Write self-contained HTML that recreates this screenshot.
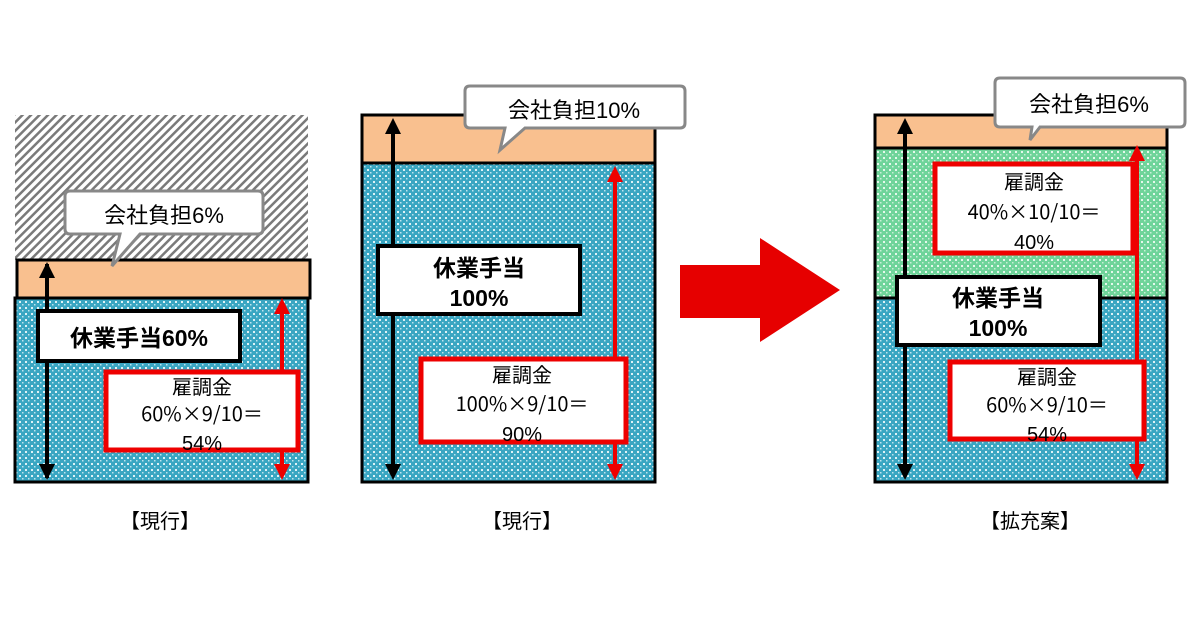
<!DOCTYPE html>
<html><head><meta charset="utf-8"><style>
html,body{margin:0;padding:0;background:#fff;}
svg text{font-family:"Liberation Sans","Noto Sans CJK JP",sans-serif;}
svg text.j{font-family:"Noto Sans CJK JP",sans-serif;}
</style></head><body>
<svg width="1200" height="630" viewBox="0 0 1200 630" xmlns="http://www.w3.org/2000/svg">
<defs>
<pattern id="hatch" width="6" height="6" patternUnits="userSpaceOnUse" patternTransform="rotate(45)">
<rect width="6" height="6" fill="#fff"/><rect width="2.5" height="6" fill="#7a7a7a"/></pattern>
<pattern id="blue" width="6" height="6" patternUnits="userSpaceOnUse">
<rect width="6" height="6" fill="#3aa6c2"/><rect x="1" y="1" width="2" height="2" fill="#dff2f6"/><rect x="4" y="4" width="1.5" height="1.5" fill="#bfe4ee"/></pattern>
<pattern id="green" width="6" height="6" patternUnits="userSpaceOnUse">
<rect width="6" height="6" fill="#6fd49a"/><rect x="1" y="1" width="2" height="2" fill="#e6f8ec"/><rect x="4" y="4" width="1.5" height="1.5" fill="#c9efd6"/></pattern>
</defs>
<g font-size="20">
<!-- Panel 1 -->
<rect x="15" y="115" width="293" height="146" fill="url(#hatch)"/>
<rect x="17" y="260" width="293" height="38" fill="#f9c08f" stroke="#000" stroke-width="3"/>
<rect x="15" y="298" width="293" height="184" fill="url(#blue)" stroke="#000" stroke-width="3"/>
<line x1="47" y1="264" x2="47" y2="478" stroke="#000" stroke-width="4"/>
<path d="M39,278 L47,262 L55,278 z M39,464 L47,480 L55,464z" fill="#000"/>
<path d="M70,191 H258 Q263,191 263,196 V229 Q263,234 258,234 H140 L112,266 L120,234 H70 Q65,234 65,229 V196 Q65,191 70,191 z" fill="#fff" stroke="#888" stroke-width="3"/>
<text x="164" y="223" text-anchor="middle" font-size="22">会社負担6%</text>
<rect x="38" y="311" width="202" height="50" fill="#fff" stroke="#000" stroke-width="4"/>
<text x="139" y="346" text-anchor="middle" font-size="23" font-weight="bold">休業手当60%</text>
<line x1="282" y1="305" x2="282" y2="473" stroke="#e00" stroke-width="4"/>
<path d="M274,314 L282,298 L290,314z M274,464 L282,480 L290,464z" fill="#e00"/>
<rect x="106" y="372" width="192" height="78" fill="#fff" stroke="#e00" stroke-width="5"/>
<text x="202" y="394" text-anchor="middle" font-size="20">雇調金</text>
<text x="202" y="421" text-anchor="middle" font-size="20" class="j">60%×9/10＝</text>
<text x="202" y="450" text-anchor="middle" font-size="20">54%</text>

<!-- Panel 2 -->
<rect x="362" y="115" width="293" height="48" fill="#f9c08f" stroke="#000" stroke-width="3"/>
<rect x="362" y="163" width="293" height="319" fill="url(#blue)" stroke="#000" stroke-width="3"/>
<line x1="393" y1="125" x2="393" y2="473" stroke="#000" stroke-width="4"/>
<path d="M385,134 L393,118 L401,134z M385,464 L393,480 L401,464z" fill="#000"/>
<path d="M470,86 H680 Q685,86 685,91 V123 Q685,128 680,128 H525 L500,150 L505,128 H470 Q465,128 465,123 V91 Q465,86 470,86z" fill="#fff" stroke="#888" stroke-width="3"/>
<text x="574" y="118" text-anchor="middle" font-size="22">会社負担10%</text>
<rect x="378" y="246" width="202" height="68" fill="#fff" stroke="#000" stroke-width="4"/>
<text x="479" y="276" text-anchor="middle" font-size="23" font-weight="bold">休業手当</text>
<text x="479" y="306" text-anchor="middle" font-size="23" font-weight="bold">100%</text>
<line x1="615" y1="172" x2="615" y2="473" stroke="#e00" stroke-width="4"/>
<path d="M607,182 L615,166 L623,182z M607,464 L615,480 L623,464z" fill="#e00"/>
<rect x="421" y="359" width="205" height="83" fill="#fff" stroke="#e00" stroke-width="5"/>
<text x="522" y="382" text-anchor="middle" font-size="20">雇調金</text>
<text x="522" y="411" text-anchor="middle" font-size="20" class="j">100%×9/10＝</text>
<text x="522" y="441" text-anchor="middle" font-size="20">90%</text>

<!-- Big arrow -->
<path d="M680,265 H760 V238 L840,290 L760,342 V318 H680 z" fill="#e60000"/>

<!-- Panel 3 -->
<rect x="875" y="115" width="292" height="33" fill="#f9c08f" stroke="#000" stroke-width="3"/>
<rect x="875" y="148" width="292" height="150" fill="url(#green)" stroke="#000" stroke-width="3"/>
<rect x="875" y="298" width="292" height="184" fill="url(#blue)" stroke="#000" stroke-width="3"/>
<line x1="905" y1="125" x2="905" y2="473" stroke="#000" stroke-width="4"/>
<path d="M897,134 L905,118 L913,134z M897,464 L905,480 L913,464z" fill="#000"/>
<path d="M1000,78 H1180 Q1185,78 1185,83 V122 Q1185,127 1180,127 H1040 L1030,140 L1032,127 H1000 Q995,127 995,122 V83 Q995,78 1000,78z" fill="#fff" stroke="#888" stroke-width="3"/>
<text x="1089" y="112" text-anchor="middle" font-size="22">会社負担6%</text>
<rect x="935" y="164" width="198" height="89" fill="#fff" stroke="#e00" stroke-width="5"/>
<text x="1034" y="189" text-anchor="middle" font-size="20">雇調金</text>
<text x="1034" y="219" text-anchor="middle" font-size="20" class="j">40%×10/10＝</text>
<text x="1034" y="249" text-anchor="middle" font-size="20">40%</text>
<rect x="897" y="277" width="203" height="68" fill="#fff" stroke="#000" stroke-width="4"/>
<text x="998" y="306" text-anchor="middle" font-size="23" font-weight="bold">休業手当</text>
<text x="998" y="336" text-anchor="middle" font-size="23" font-weight="bold">100%</text>
<line x1="1137" y1="152" x2="1137" y2="473" stroke="#e00" stroke-width="4"/>
<path d="M1129,161 L1137,145 L1145,161z M1129,464 L1137,480 L1145,464z" fill="#e00"/>
<rect x="950" y="362" width="194" height="77" fill="#fff" stroke="#e00" stroke-width="5"/>
<text x="1047" y="384" text-anchor="middle" font-size="20">雇調金</text>
<text x="1047" y="412" text-anchor="middle" font-size="20" class="j">60%×9/10＝</text>
<text x="1047" y="441" text-anchor="middle" font-size="20">54%</text>

<!-- labels -->
<text x="160" y="528" text-anchor="middle" font-size="20">【現行】</text>
<text x="522" y="528" text-anchor="middle" font-size="20">【現行】</text>
<text x="1030" y="528" text-anchor="middle" font-size="20">【拡充案】</text>
</g>
</svg>
</body></html>
